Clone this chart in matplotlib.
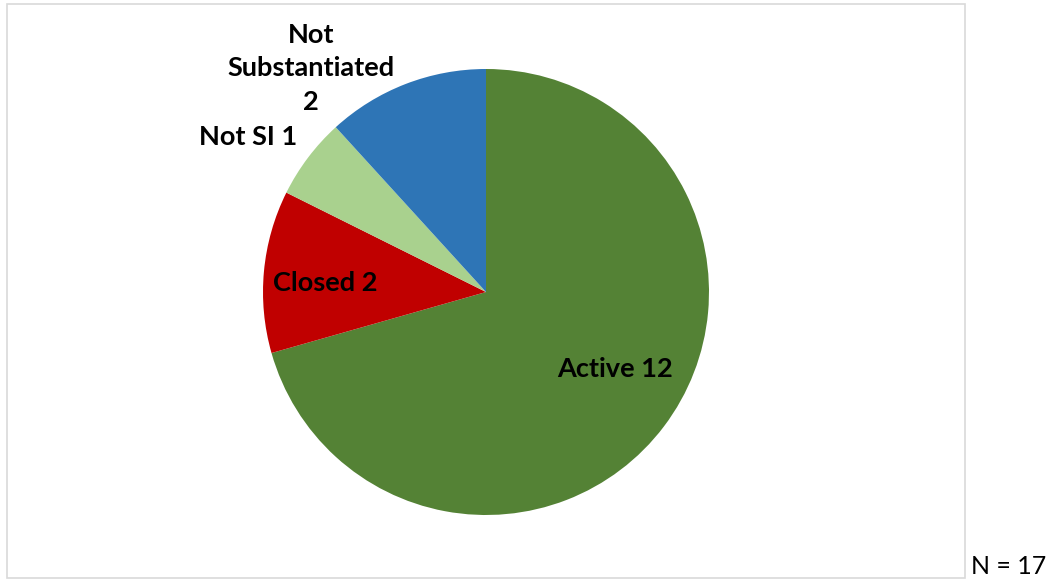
import matplotlib
matplotlib.use("Agg")
import matplotlib.pyplot as plt
from matplotlib.patches import Rectangle

categories = ["Active", "Closed", "Not SI", "Not\nSubstantiated\n"]
values = [12, 2, 1, 2]
colors = ["#548235", "#C00000", "#A9D18E", "#2E75B6"]
total_label = "N = 17"

plt.rcParams['font.family'] = ['Lato', 'DejaVu Sans']

W, H = 1051, 584
fig = plt.figure(figsize=(W / 100, H / 100), dpi=100)
fig.patch.set_facecolor("white")

# chart border
fig.add_artist(Rectangle((7 / W, 6 / H), 958 / W, 574 / H, transform=fig.transFigure,
                         fill=False, edgecolor="#D9D9D9", linewidth=1.2))

cx, cy, r = 486, 292, 223
ax = fig.add_axes([(cx - r) / W, (H - cy - r) / H, 2 * r / W, 2 * r / H])
wedges, _ = ax.pie(values, colors=colors, startangle=90, counterclock=False,
                   radius=1, wedgeprops=dict(linewidth=0))
ax.set_xlim(-1, 1)
ax.set_ylim(-1, 1)
ax.set_aspect("equal")
ax.axis("off")

label_pos = [(0.578, -0.345), (-0.722, 0.040), (-1.067, 0.695), (-0.785, 1.004)]
for cat, val, (lx, ly) in zip(categories, values, label_pos):
    sep = "" if cat.endswith("\n") else " "
    ax.text(lx, ly, f"{cat}{sep}{val}", ha="center", va="center", fontsize=19.5,
            fontweight="bold", color="black", clip_on=False, linespacing=1.47)

fig.text(1009 / W, (H - 566) / H, total_label, ha="center", va="center", fontsize=18,
         color="black")

fig.savefig("out.png", dpi=100)
